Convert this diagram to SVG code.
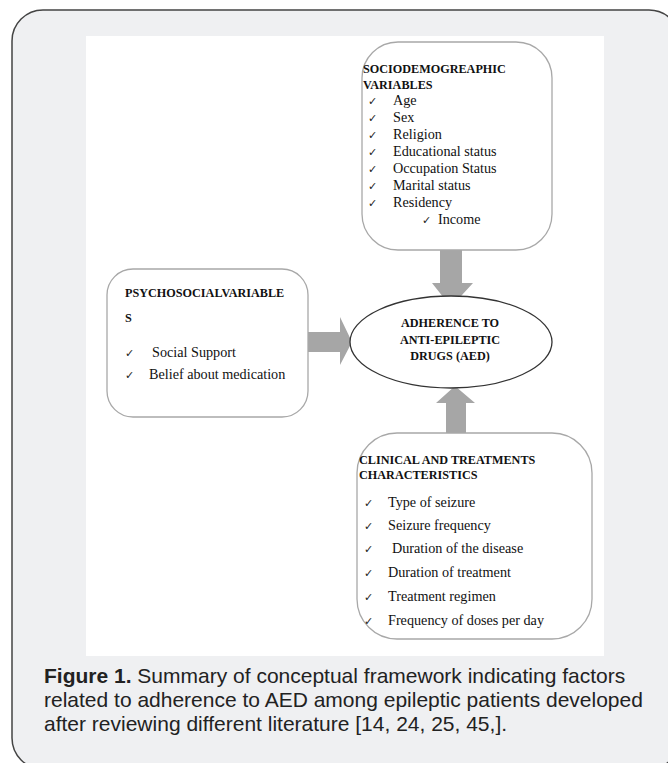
<svg xmlns="http://www.w3.org/2000/svg" width="668" height="763" viewBox="0 0 668 763">
<style>
.box{fill:#fff;stroke:#a8a8a8;stroke-width:1.3}
.hd{font-family:"Liberation Serif",serif;font-weight:bold;font-size:12.2px;fill:#111}
.it{font-family:"Liberation Serif",serif;font-size:14.2px;fill:#111}
.ck{font-family:"DejaVu Sans",sans-serif;font-size:11px;fill:#222}
.arr{fill:#a6a6a6}
.cap{font-family:"Liberation Sans",Arial,sans-serif;font-size:21px;fill:#222}
</style>
<rect x="12" y="10" width="668" height="759" rx="31" fill="#eff0f2" stroke="#444" stroke-width="1.5"/>
<rect x="86" y="36" width="518" height="620" fill="#fff"/>
<g id="connectors">
<polygon class="arr" points="440,238 462,238 462,283 473,283 451,307 432,283 440,283"/>
<polygon class="arr" points="294,332 340,332 340,317 352,342 340,365 340,352 294,352"/>
<polygon class="arr" points="446,442 466,442 466,403 475,403 455,386 436,403 446,403"/>
</g>
<g id="sociodemographic">
<rect class="box" x="362" y="42" width="190" height="208" rx="36"/>
<text class="hd" x="363" y="73">SOCIODEMOGREAPHIC</text>
<text class="hd" x="363" y="89">VARIABLES</text>
<g class="ck">
<text x="368" y="105">✓</text><text x="368" y="122">✓</text><text x="368" y="139">✓</text><text x="368" y="156">✓</text><text x="368" y="173">✓</text><text x="368" y="190">✓</text><text x="368" y="207">✓</text><text x="422" y="224">✓</text>
</g>
<g class="it">
<text x="393" y="105">Age</text><text x="393" y="122">Sex</text><text x="393" y="139">Religion</text><text x="393" y="156">Educational status</text><text x="393" y="173">Occupation Status</text><text x="393" y="190">Marital status</text><text x="393" y="207">Residency</text><text x="438" y="224">Income</text>
</g>
</g>
<g id="psychosocial">
<rect class="box" x="107" y="269" width="201" height="148" rx="26"/>
<text class="hd" x="125" y="297">PSYCHOSOCIALVARIABLE</text>
<text class="hd" x="125" y="322">S</text>
<text class="ck" x="125" y="357">✓</text><text class="ck" x="125" y="379">✓</text>
<text class="it" x="152" y="357">Social Support</text>
<text class="it" x="149" y="379">Belief about medication</text>
</g>
<g id="adherence">
<ellipse cx="451" cy="342" rx="101" ry="46" fill="#fff" stroke="#333" stroke-width="1.3"/>
<text class="hd" x="450" y="327" text-anchor="middle">ADHERENCE TO</text>
<text class="hd" x="450" y="344" text-anchor="middle">ANTI-EPILEPTIC</text>
<text class="hd" x="450" y="360" text-anchor="middle">DRUGS (AED)</text>
</g>
<g id="clinical">
<rect class="box" x="357" y="433" width="235" height="206" rx="40"/>
<text class="hd" x="359" y="464">CLINICAL AND TREATMENTS</text>
<text class="hd" x="359" y="479">CHARACTERISTICS</text>
<g class="ck">
<text x="364" y="507">✓</text><text x="364" y="530">✓</text><text x="364" y="553">✓</text><text x="364" y="577">✓</text><text x="364" y="601">✓</text><text x="364" y="625">✓</text>
</g>
<g class="it">
<text x="388" y="507">Type of seizure</text><text x="388" y="530">Seizure frequency</text><text x="392" y="553">Duration of the disease</text><text x="388" y="577">Duration of treatment</text><text x="388" y="601">Treatment regimen</text><text x="388" y="625">Frequency of doses per day</text>
</g>
</g>
<g id="caption" class="cap">
<text x="44" y="683"><tspan font-weight="bold">Figure 1.</tspan> Summary of conceptual framework indicating factors</text>
<text x="44" y="707">related to adherence to AED among epileptic patients developed</text>
<text x="44" y="731">after reviewing different literature [14, 24, 25, 45,].</text>
</g>
</svg>
